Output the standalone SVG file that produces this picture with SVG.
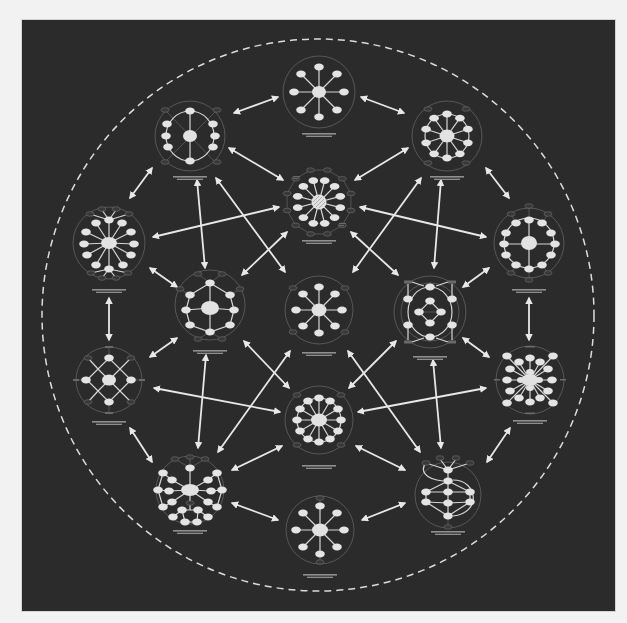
<svg xmlns="http://www.w3.org/2000/svg" xmlns:xlink="http://www.w3.org/1999/xlink" width="627" height="623" viewBox="0 0 627 623">
<style>
.ring{fill:none;stroke:#626262;stroke-width:0.8}
.ln{fill:none;stroke:#d6d6d6;stroke-width:1.2}
.fl{fill:none;stroke:#6e6e6e;stroke-width:0.6}
.hub{fill:#e2e2e2}
.arr{fill:none;stroke:#e8e8e8;stroke-width:1.8;marker-start:url(#ah);marker-end:url(#ah)}
.cap{fill:#8e8e8e}
.gb{fill:#6a6a6a}
</style>
<defs>
<marker id="ah" viewBox="0 0 10 10" refX="8" refY="5" markerWidth="4.2" markerHeight="4.2" orient="auto-start-reverse"><path d="M0,0 L10,5 L0,10 z" fill="#e8e8e8"/></marker>
<ellipse id="s" rx="4.8" ry="3.4" fill="#e4e4e4"/>
<ellipse id="g" rx="4" ry="2.3" fill="#383838" stroke="#7c7c7c" stroke-width="0.5"/>
<g id="cp" class="cap"><rect x="-17" y="0" width="34" height="1.6"/><rect x="-13" y="2.7" width="26" height="1.3"/></g>
</defs>
<rect x="0" y="0" width="627" height="623" fill="#f2f2f2"/>
<rect x="21" y="19" width="595" height="593" fill="#d4d4d4"/>
<rect x="22" y="20" width="593" height="591" fill="#2b2b2b"/>
<circle cx="318" cy="315" r="276" fill="none" stroke="#dcdcdc" stroke-width="1.5" stroke-dasharray="7 5"/>

<g id="connectors">
<line class="arr" x1="278" y1="97" x2="234" y2="113"/>
<line class="arr" x1="361" y1="97" x2="404" y2="113"/>
<line class="arr" x1="152" y1="168" x2="130" y2="198"/>
<line class="arr" x1="486" y1="168" x2="509" y2="198"/>
<line class="arr" x1="229" y1="148" x2="283" y2="180"/>
<line class="arr" x1="408" y1="148" x2="355" y2="180"/>
<line class="arr" x1="153" y1="237" x2="279" y2="207"/>
<line class="arr" x1="486" y1="237" x2="360" y2="207"/>
<line class="arr" x1="197" y1="180" x2="205" y2="268"/>
<line class="arr" x1="441" y1="180" x2="434" y2="268"/>
<line class="arr" x1="216" y1="178" x2="285" y2="272"/>
<line class="arr" x1="421" y1="178" x2="353" y2="272"/>
<line class="arr" x1="287" y1="232" x2="242" y2="275"/>
<line class="arr" x1="351" y1="232" x2="398" y2="275"/>
<line class="arr" x1="150" y1="268" x2="177" y2="287"/>
<line class="arr" x1="489" y1="268" x2="463" y2="287"/>
<line class="arr" x1="109" y1="298" x2="109" y2="340"/>
<line class="arr" x1="529" y1="298" x2="529" y2="340"/>
<line class="arr" x1="150" y1="357" x2="177" y2="338"/>
<line class="arr" x1="489" y1="357" x2="463" y2="338"/>
<line class="arr" x1="154" y1="388" x2="280" y2="412"/>
<line class="arr" x1="486" y1="388" x2="358" y2="412"/>
<line class="arr" x1="130" y1="428" x2="152" y2="462"/>
<line class="arr" x1="510" y1="428" x2="487" y2="462"/>
<line class="arr" x1="232" y1="503" x2="278" y2="520"/>
<line class="arr" x1="405" y1="503" x2="362" y2="520"/>
<line class="arr" x1="232" y1="470" x2="282" y2="446"/>
<line class="arr" x1="405" y1="470" x2="356" y2="446"/>
<line class="arr" x1="206" y1="355" x2="198" y2="448"/>
<line class="arr" x1="433" y1="360" x2="441" y2="448"/>
<line class="arr" x1="290" y1="351" x2="218" y2="452"/>
<line class="arr" x1="348" y1="351" x2="420" y2="452"/>
<line class="arr" x1="244" y1="341" x2="289" y2="388"/>
<line class="arr" x1="396" y1="341" x2="349" y2="388"/>
</g>

<g id="n1" transform="translate(319,92)">
<circle class="ring" r="36"/>
<path class="ln" d="M0,-25V25M-25,0H25M-18,-18L18,18M18,-18L-18,18"/>
<use href="#s" x="0" y="-25"/><use href="#s" x="18" y="-18"/><use href="#s" x="25" y="0"/><use href="#s" x="18" y="18"/>
<use href="#s" x="0" y="25"/><use href="#s" x="-18" y="18"/><use href="#s" x="-25" y="0"/><use href="#s" x="-18" y="-18"/>
<ellipse class="hub" rx="7" ry="6"/>
<use href="#cp" y="41"/>
</g>

<g id="n2" transform="translate(190,136)">
<circle class="ring" r="35"/>
<path class="fl" d="M-25,-26L25,26M27,-26L-25,26"/>
<ellipse class="ln" rx="24" ry="25"/>
<line class="ln" x1="0" y1="-25" x2="0" y2="25"/>
<use href="#g" x="-25" y="-26"/><use href="#g" x="27" y="-26"/><use href="#g" x="-25" y="26"/><use href="#g" x="27" y="26"/>
<use href="#s" x="0" y="-25"/><use href="#s" x="0" y="25"/>
<use href="#s" x="-23" y="-12"/><use href="#s" x="-24" y="0"/><use href="#s" x="-22" y="11"/>
<use href="#s" x="23" y="-12"/><use href="#s" x="25" y="0"/><use href="#s" x="23" y="11"/>
<ellipse class="hub" rx="7" ry="6"/>
<use href="#cp" y="40"/>
</g>

<g id="n3" transform="translate(447,136)">
<circle class="ring" r="35"/>
<circle class="ln" r="22"/>
<path class="ln" d="M0,0L0,-22M0,0L12.9,-17.8M0,0L20.9,-6.8M0,0L20.9,6.8M0,0L12.9,17.8M0,0L0,22M0,0L-12.9,17.8M0,0L-20.9,6.8M0,0L-20.9,-6.8M0,0L-12.9,-17.8"/>
<use href="#g" x="-19" y="-27"/><use href="#g" x="19" y="-27"/><use href="#g" x="-19" y="27"/><use href="#g" x="19" y="27"/>
<use href="#s" x="0" y="-22"/><use href="#s" x="12.9" y="-17.8"/><use href="#s" x="20.9" y="-6.8"/><use href="#s" x="20.9" y="6.8"/><use href="#s" x="12.9" y="17.8"/>
<use href="#s" x="0" y="22"/><use href="#s" x="-12.9" y="17.8"/><use href="#s" x="-20.9" y="6.8"/><use href="#s" x="-20.9" y="-6.8"/><use href="#s" x="-12.9" y="-17.8"/>
<ellipse class="hub" rx="7.5" ry="6.5"/>
<use href="#cp" y="40"/>
</g>

<g id="n4" transform="translate(319,202)">
<polygon class="fl" points="8.5,-31.9 23.3,-23.3 31.9,-8.5 31.9,8.5 23.3,23.3 8.5,31.9 -8.5,31.9 -23.3,23.3 -31.9,8.5 -31.9,-8.5 -23.3,-23.3 -8.5,-31.9"/>
<use href="#g" x="8.5" y="-31.9"/><use href="#g" x="23.3" y="-23.3"/><use href="#g" x="31.9" y="-8.5"/><use href="#g" x="31.9" y="8.5"/><use href="#g" x="23.3" y="23.3"/><use href="#g" x="8.5" y="31.9"/>
<use href="#g" x="-8.5" y="31.9"/><use href="#g" x="-23.3" y="23.3"/><use href="#g" x="-31.9" y="8.5"/><use href="#g" x="-31.9" y="-8.5"/><use href="#g" x="-23.3" y="-23.3"/><use href="#g" x="-8.5" y="-31.9"/>
<path class="ln" d="M0,0L5.7,-21.3M0,0L15.6,-15.6M0,0L21.3,-5.7M0,0L21.3,5.7M0,0L15.6,15.6M0,0L5.7,21.3M0,0L-5.7,21.3M0,0L-15.6,15.6M0,0L-21.3,5.7M0,0L-21.3,-5.7M0,0L-15.6,-15.6M0,0L-5.7,-21.3"/>
<use href="#s" x="5.7" y="-21.3"/><use href="#s" x="15.6" y="-15.6"/><use href="#s" x="21.3" y="-5.7"/><use href="#s" x="21.3" y="5.7"/><use href="#s" x="15.6" y="15.6"/><use href="#s" x="5.7" y="21.3"/>
<use href="#s" x="-5.7" y="21.3"/><use href="#s" x="-15.6" y="15.6"/><use href="#s" x="-21.3" y="5.7"/><use href="#s" x="-21.3" y="-5.7"/><use href="#s" x="-15.6" y="-15.6"/><use href="#s" x="-5.7" y="-21.3"/>
<g class="gb"><rect x="-26" y="-26" width="7" height="1"/><rect x="-26" y="-24" width="5" height="1"/><rect x="20" y="21" width="7" height="1"/><rect x="20" y="23" width="5" height="1"/></g>
<circle class="hub" r="7.5"/>
<path d="M-5,3L3,-5M-3,5L5,-3M-6,0L0,-6M0,6L6,0" stroke="#9a9a9a" stroke-width="0.7"/>
<use href="#cp" y="38"/>
</g>

<g id="n5" transform="translate(109,243)">
<circle class="ring" r="36"/>
<path class="ln" d="M0,0L0,-23M0,0L-13,-20M0,0L13,-20M0,0L-23,-11M0,0L22,-11M0,0L-25,1M0,0L25,1M0,0L-22,12M0,0L22,12M0,0L-13,22M0,0L14,22M0,0L0,26"/>
<path class="ln" d="M0,-23L-7,-33M0,-23L7,-33M0,-23L-19,-29M0,-23L20,-29M0,26L-18,30M0,26L19,30M0,26L-7,35M0,26L7,35"/>
<use href="#g" x="-7" y="-34"/><use href="#g" x="7" y="-34"/><use href="#g" x="-19" y="-29"/><use href="#g" x="20" y="-29"/>
<use href="#g" x="-18" y="30"/><use href="#g" x="19" y="30"/><use href="#g" x="-7" y="35"/><use href="#g" x="7" y="35"/>
<use href="#s" x="0" y="-23"/><use href="#s" x="-13" y="-20"/><use href="#s" x="13" y="-20"/><use href="#s" x="-23" y="-11"/><use href="#s" x="22" y="-11"/><use href="#s" x="-25" y="1"/>
<use href="#s" x="25" y="1"/><use href="#s" x="-22" y="12"/><use href="#s" x="22" y="12"/><use href="#s" x="-13" y="22"/><use href="#s" x="14" y="22"/><use href="#s" x="0" y="26"/>
<ellipse class="hub" rx="8" ry="6"/>
<use href="#cp" y="46"/>
</g>

<g id="n6" transform="translate(529,243)">
<circle class="ring" r="35"/>
<ellipse class="ln" rx="25" ry="25"/>
<path class="ln" d="M0,-23V26M-25,1H26"/>
<path class="fl" d="M0,-23V-36M0,26V37M-13,-20L-18,-29M13,-20L19,-29M-13,22L-18,30M13,22L19,30"/>
<use href="#g" x="0" y="-37"/><use href="#g" x="-18" y="-29"/><use href="#g" x="19" y="-29"/><use href="#g" x="-18" y="30"/><use href="#g" x="19" y="30"/><use href="#g" x="0" y="37"/>
<use href="#s" x="0" y="-23"/><use href="#s" x="-13" y="-20"/><use href="#s" x="13" y="-20"/><use href="#s" x="-23" y="-10"/><use href="#s" x="22" y="-10"/><use href="#s" x="-25" y="1"/>
<use href="#s" x="26" y="1"/><use href="#s" x="-23" y="12"/><use href="#s" x="22" y="12"/><use href="#s" x="-13" y="22"/><use href="#s" x="13" y="22"/><use href="#s" x="0" y="26"/>
<ellipse class="hub" rx="8" ry="7"/>
<use href="#cp" y="46"/>
</g>

<g id="n7" transform="translate(210,305)">
<circle class="ring" r="35"/>
<path class="ln" d="M0,-22V27M0,-22L-20,-10M0,-22L20,-10M-20,-10L-24,5L-20,20L0,27L20,20L24,5L20,-10M0,3L-24,5M0,3L24,5"/>
<path class="fl" d="M0,-22L-12,-31M0,-22L12,-31M0,27L-12,34M0,27L12,34M-20,-10L-30,-16M20,-10L30,-16"/>
<use href="#g" x="-12" y="-31"/><use href="#g" x="12" y="-31"/><use href="#g" x="-12" y="34"/><use href="#g" x="12" y="34"/><use href="#g" x="-30" y="-16"/><use href="#g" x="30" y="-16"/>
<use href="#s" x="0" y="-22"/><use href="#s" x="-20" y="-10"/><use href="#s" x="20" y="-10"/><use href="#s" x="-24" y="5"/><use href="#s" x="24" y="5"/><use href="#s" x="-20" y="20"/><use href="#s" x="20" y="20"/><use href="#s" x="0" y="27"/>
<ellipse class="hub" cy="3" rx="9" ry="7"/>
<use href="#cp" y="45"/>
</g>

<g id="n8" transform="translate(319,310)">
<circle class="ring" r="34"/>
<path class="ln" d="M0,-23V23M-23,0H23M-16,-16L16,16M16,-16L-16,16"/>
<use href="#g" x="-26" y="-22"/><use href="#g" x="26" y="-22"/><use href="#g" x="-26" y="22"/><use href="#g" x="26" y="22"/>
<use href="#s" x="0" y="-23"/><use href="#s" x="16" y="-16"/><use href="#s" x="23" y="0"/><use href="#s" x="16" y="16"/>
<use href="#s" x="0" y="23"/><use href="#s" x="-16" y="16"/><use href="#s" x="-23" y="0"/><use href="#s" x="-16" y="-16"/>
<ellipse class="hub" rx="7.5" ry="6.5"/>
<use href="#cp" y="42"/>
</g>

<g id="n9" transform="translate(430,312)">
<circle class="ring" r="36"/>
<circle class="ring" r="29"/>
<ellipse class="ln" rx="22" ry="25"/>
<path class="ln" d="M0,-11L11,0L0,11L-11,0Z"/>
<path class="ln" d="M-22,-28V-16M22,-28V-16M-22,28V16M22,28V16M-18,-30L-6,-26M18,-30L6,-26M-18,30L-6,26M18,30L6,26"/>
<path class="fl" d="M-6,0H6"/>
<g class="gb"><rect x="-26" y="-31.5" width="8" height="3"/><rect x="18" y="-31.5" width="8" height="3"/><rect x="-26" y="28.5" width="8" height="3"/><rect x="18" y="28.5" width="8" height="3"/></g>
<use href="#s" x="0" y="-25"/><use href="#s" x="0" y="25"/><use href="#s" x="-22" y="-13"/><use href="#s" x="-22" y="13"/><use href="#s" x="22" y="-13"/><use href="#s" x="22" y="13"/>
<use href="#s" x="0" y="-11"/><use href="#s" x="11" y="0"/><use href="#s" x="0" y="11"/><use href="#s" x="-11" y="0"/>
<use href="#cp" y="44"/>
</g>

<g id="n10" transform="translate(109,380)">
<circle class="ring" r="33"/>
<path class="ln" d="M-22,0L0,-22L22,0L0,22Z M-11,11L11,-11 M-11,-11L11,11 M-21,-22L-11,-11 M22,22L11,11 M22,-22L11,-11 M-21,22L-11,11"/>
<path class="fl" d="M0,-22V-32M0,22V32M-23,0H-32M22,0H32"/>
<g class="gb"><rect x="-4" y="-34" width="8" height="2"/><rect x="-4" y="32" width="8" height="2"/><rect x="-36" y="-1" width="6" height="2"/><rect x="30" y="-1" width="6" height="2"/></g>
<use href="#g" x="-21" y="-22"/><use href="#g" x="22" y="-22"/><use href="#g" x="-21" y="22"/><use href="#g" x="22" y="22"/>
<use href="#s" x="0" y="-22"/><use href="#s" x="0" y="22"/><use href="#s" x="-23" y="0"/><use href="#s" x="22" y="0"/>
<ellipse class="hub" rx="7" ry="5.5"/>
<use href="#cp" y="41"/>
</g>

<g id="n11" transform="translate(530,380)">
<circle class="ring" r="34"/>
<path class="ln" d="M0,0L-23,-24M0,0L0,-22M0,0L-11,-18M0,0L10,-18M0,0L23,-24M0,0L-20,-11M0,0L18,-11M0,0L-23,0M0,0L22,0M0,0L-20,11M0,0L18,11M0,0L-23,23M0,0L-11,18M0,0L0,22M0,0L10,18M0,0L23,23"/>
<g class="gb"><rect x="-5" y="-34" width="10" height="1.5"/><rect x="-5" y="32.5" width="10" height="1.5"/><rect x="-36" y="-1" width="6" height="1.5"/><rect x="30" y="-1" width="6" height="1.5"/></g>
<use href="#s" x="-23" y="-24"/><use href="#s" x="0" y="-22"/><use href="#s" x="-11" y="-18"/><use href="#s" x="10" y="-18"/><use href="#s" x="23" y="-24"/><use href="#s" x="-20" y="-11"/>
<use href="#s" x="18" y="-11"/><use href="#s" x="-23" y="0"/><use href="#s" x="22" y="0"/><use href="#s" x="-20" y="11"/><use href="#s" x="18" y="11"/><use href="#s" x="-23" y="23"/>
<use href="#s" x="-11" y="18"/><use href="#s" x="0" y="22"/><use href="#s" x="10" y="18"/><use href="#s" x="23" y="23"/>
<ellipse class="hub" rx="4" ry="3" cy="-8"/><ellipse class="hub" rx="4" ry="3" cy="8"/><ellipse class="hub" rx="4" ry="3" cx="-9"/><ellipse class="hub" rx="4" ry="3" cx="9"/>
<ellipse class="hub" rx="8" ry="6"/>
<use href="#cp" y="40"/>
</g>

<g id="n12" transform="translate(319,420)">
<circle class="ring" r="34"/>
<circle class="ln" r="22"/>
<path class="ln" d="M0,0L22,0M0,0L19,11M0,0L11,19M0,0L0,22M0,0L-11,19M0,0L-19,11M0,0L-22,0M0,0L-19,-11M0,0L-11,-19M0,0L0,-22M0,0L11,-19M0,0L19,-11"/>
<use href="#g" x="-22" y="-25"/><use href="#g" x="22" y="-25"/><use href="#g" x="-22" y="25"/><use href="#g" x="22" y="25"/>
<use href="#s" x="22" y="0"/><use href="#s" x="19" y="11"/><use href="#s" x="11" y="19"/><use href="#s" x="0" y="22"/><use href="#s" x="-11" y="19"/><use href="#s" x="-19" y="11"/>
<use href="#s" x="-22" y="0"/><use href="#s" x="-19" y="-11"/><use href="#s" x="-11" y="-19"/><use href="#s" x="0" y="-22"/><use href="#s" x="11" y="-19"/><use href="#s" x="19" y="-11"/>
<ellipse class="hub" rx="8" ry="6.5"/>
<use href="#cp" y="45"/>
</g>

<g id="n13" transform="translate(190,490)">
<circle class="ring" r="34"/>
<path class="ln" d="M0,0V-22M0,0L-18,-10M0,0L-21,1M0,0L-18,12M0,0L18,-10M0,0L21,1M0,0L18,12M0,0V20M-18,-10L-27,-17M-21,1L-32,0M-18,12L-27,17M18,-10L27,-17M21,1L32,0M18,12L27,17M-27,-17L-32,0L-27,17M27,-17L32,0L27,17M-8,20L8,20M-8,20L-17,27M8,20L18,27M-8,20L-5,32M8,20L7,32M-5,32H7"/>
<path class="fl" d="M0,-22L-15,-31M0,-22L15,-31M0,-22V-32"/>
<use href="#g" x="-15" y="-31"/><use href="#g" x="15" y="-31"/><use href="#g" x="0" y="-33"/>
<use href="#s" x="0" y="-22"/><use href="#s" x="-27" y="-17"/><use href="#s" x="-32" y="0"/><use href="#s" x="-27" y="17"/><use href="#s" x="-18" y="-10"/><use href="#s" x="-21" y="1"/><use href="#s" x="-18" y="12"/>
<use href="#s" x="27" y="-17"/><use href="#s" x="32" y="0"/><use href="#s" x="27" y="17"/><use href="#s" x="18" y="-10"/><use href="#s" x="21" y="1"/><use href="#s" x="18" y="12"/>
<use href="#s" x="-8" y="20"/><use href="#s" x="8" y="20"/><use href="#s" x="-17" y="27"/><use href="#s" x="-5" y="32"/><use href="#s" x="7" y="32"/><use href="#s" x="18" y="27"/>
<use href="#g" x="0" y="13"/>
<ellipse class="hub" rx="9" ry="6"/>
<use href="#cp" y="40"/>
</g>

<g id="n14" transform="translate(448,495)">
<circle class="ring" r="33"/>
<path class="ln" d="M0,-25V21M0,-14L-22,-3M0,-14L22,-3M-22,-3V7M22,-3V7M-22,-3H22M-22,7L0,8L22,7M-22,7L0,21M22,7L0,21M0,-25L-8,-36M0,-25L8,-36M0,-25L-22,-32M0,-25L22,-32"/>
<path class="ln" stroke-width="2" d="M-22,-32C-28,-25 -24,-16 -5,-14M5,-15C30,-15 34,18 5,21"/>
<path class="fl" d="M0,21V32"/>
<use href="#g" x="-8" y="-37"/><use href="#g" x="8" y="-37"/><use href="#g" x="-22" y="-32"/><use href="#g" x="22" y="-32"/><use href="#g" x="0" y="32"/>
<use href="#s" x="0" y="-25"/><use href="#s" x="0" y="-14"/><use href="#s" x="-22" y="-3"/><use href="#s" x="0" y="-3"/><use href="#s" x="22" y="-3"/>
<use href="#s" x="-22" y="7"/><use href="#s" x="0" y="8"/><use href="#s" x="22" y="7"/><use href="#s" x="0" y="21"/>
<use href="#cp" y="36"/>
</g>

<g id="n15" transform="translate(320,530)">
<circle class="ring" r="34"/>
<path class="ln" d="M0,-24V24M-24,0H24M-17,-17L17,17M17,-17L-17,17"/>
<path class="fl" d="M0,-24V-32M0,24V32"/>
<use href="#g" x="0" y="-32"/><use href="#g" x="0" y="32"/>
<use href="#s" x="0" y="-24"/><use href="#s" x="17" y="-17"/><use href="#s" x="24" y="0"/><use href="#s" x="17" y="17"/>
<use href="#s" x="0" y="24"/><use href="#s" x="-17" y="17"/><use href="#s" x="-24" y="0"/><use href="#s" x="-17" y="-17"/>
<ellipse class="hub" rx="8" ry="6.5"/>
<use href="#cp" y="44"/>
</g>
</svg>
